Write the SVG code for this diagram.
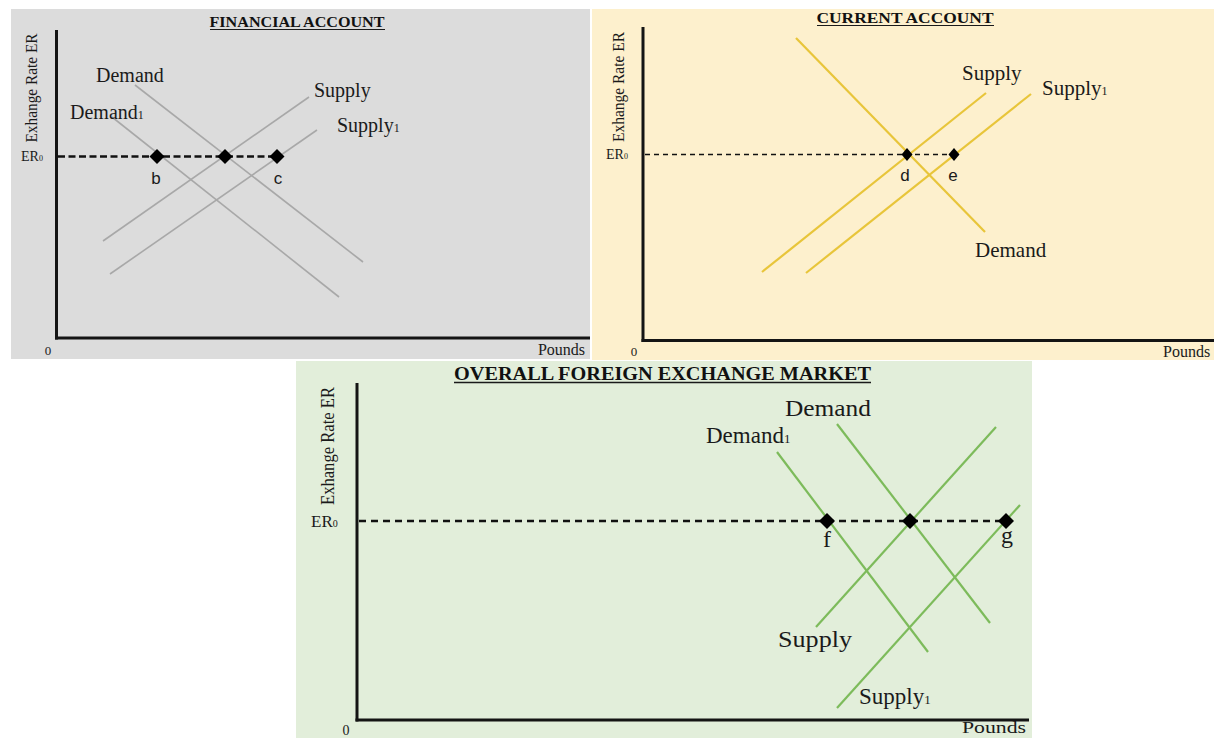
<svg xmlns="http://www.w3.org/2000/svg" width="1214" height="738" viewBox="0 0 1214 738">
<style>
.serif{font-family:"Liberation Serif","Times New Roman",serif;fill:#1a1a1a}
.sans{font-family:"Liberation Sans",Arial,sans-serif;fill:#1a1a1a}
.title{font-weight:bold;fill:#111}
.axis{stroke:#141414;stroke-width:3;fill:none}
.dash{stroke:#111;fill:none}
.gray{stroke:#a8a8a8;stroke-width:1.6;fill:none}
.yel{stroke:#e8c53a;stroke-width:2.2;fill:none}
.grn{stroke:#7dbb5b;stroke-width:2.2;fill:none}
.dot{fill:#000}
</style>
<rect width="1214" height="738" fill="#ffffff"/>

<g id="financial-account">
<rect x="11" y="9" width="579" height="350" fill="#dcdcdc"/>
<text class="serif title" x="297" y="27" font-size="15" text-anchor="middle" textLength="175" lengthAdjust="spacingAndGlyphs">FINANCIAL ACCOUNT</text>
<line x1="210" y1="29.5" x2="385" y2="29.5" stroke="#1a1a1a" stroke-width="1.2"/>
<text class="serif" font-size="16" text-anchor="middle" transform="translate(37,88) rotate(-90)" textLength="109" lengthAdjust="spacingAndGlyphs">Exhange Rate ER</text>
<text class="serif" x="21" y="161" font-size="14">ER<tspan font-size="8">0</tspan></text>
<text class="serif" x="48" y="355" font-size="13" text-anchor="middle">0</text>
<text class="serif" x="585" y="355" font-size="16" text-anchor="end">Pounds</text>
<g id="fa-curves">
<line class="gray" x1="135" y1="85" x2="363" y2="262"/>
<line class="gray" x1="112" y1="117" x2="339" y2="297"/>
<line class="gray" x1="103" y1="241" x2="309" y2="97"/>
<line class="gray" x1="110" y1="274" x2="317" y2="130"/>
<line class="dash" x1="58" y1="156.5" x2="277" y2="156.5" stroke-width="2.5" stroke-dasharray="7 3.5"/>
</g>
<polygon class="dot" points="157,149 164.5,156.5 157,164 149.5,156.5"/>
<polygon class="dot" points="225,149 232.5,156.5 225,164 217.5,156.5"/>
<polygon class="dot" points="277,149 284.5,156.5 277,164 269.5,156.5"/>
<text class="serif" x="96" y="82" font-size="20">Demand</text>
<text class="serif" x="70" y="119" font-size="20">Demand<tspan font-size="12">1</tspan></text>
<text class="serif" x="314" y="97" font-size="20">Supply</text>
<text class="serif" x="337" y="132" font-size="20">Supply<tspan font-size="12">1</tspan></text>
<text class="sans" x="156" y="184" font-size="17" text-anchor="middle">b</text>
<text class="sans" x="278" y="184" font-size="17" text-anchor="middle">c</text>
<line class="axis" x1="56.5" y1="30" x2="56.5" y2="339.5"/>
<line class="axis" x1="55" y1="338" x2="590" y2="338"/>
</g>

<g id="current-account">
<rect x="592" y="9" width="622" height="351" fill="#fdf0cd"/>
<text class="serif title" x="905" y="23" font-size="15" text-anchor="middle" textLength="177" lengthAdjust="spacingAndGlyphs">CURRENT ACCOUNT</text>
<line x1="817" y1="25.5" x2="994" y2="25.5" stroke="#1a1a1a" stroke-width="1.2"/>
<text class="serif" font-size="16" text-anchor="middle" transform="translate(624,87) rotate(-90)" textLength="110" lengthAdjust="spacingAndGlyphs">Exhange Rate ER</text>
<text class="serif" x="606" y="159" font-size="14">ER<tspan font-size="8">0</tspan></text>
<text class="serif" x="634" y="356" font-size="13" text-anchor="middle">0</text>
<text class="serif" x="1163" y="357" font-size="16">Pounds</text>
<g id="ca-curves">
<line class="yel" x1="796" y1="38" x2="985" y2="232"/>
<line class="yel" x1="762" y1="272" x2="986" y2="93"/>
<line class="yel" x1="806" y1="273" x2="1031" y2="94"/>
<line class="dash" x1="645" y1="154.5" x2="954" y2="154.5" stroke="#333" stroke-width="1.5" stroke-dasharray="5 4"/>
</g>
<polygon class="dot" points="907,148 912.5,154.5 907,161 901.5,154.5"/>
<polygon class="dot" points="954,148 959.5,154.5 954,161 948.5,154.5"/>
<text class="serif" x="962" y="80" font-size="21">Supply</text>
<text class="serif" x="1042" y="95" font-size="21">Supply<tspan font-size="12">1</tspan></text>
<text class="serif" x="975" y="257" font-size="21">Demand</text>
<text class="sans" x="905" y="181" font-size="17" text-anchor="middle">d</text>
<text class="sans" x="953" y="181" font-size="17" text-anchor="middle">e</text>
<line class="axis" x1="643" y1="27" x2="643" y2="342" stroke="#2a1f14"/>
<line class="axis" x1="641.5" y1="340.5" x2="1214" y2="340.5" stroke="#2a1f14"/>
</g>

<g id="overall-market">
<rect x="296" y="361" width="736" height="377" fill="#e2eeda"/>
<text class="serif title" x="662.5" y="380" font-size="19" text-anchor="middle" textLength="417" lengthAdjust="spacingAndGlyphs">OVERALL FOREIGN EXCHANGE MARKET</text>
<line x1="454" y1="382.5" x2="871" y2="382.5" stroke="#1a1a1a" stroke-width="1.4"/>
<text class="serif" font-size="18" text-anchor="middle" transform="translate(334,446) rotate(-90)" textLength="118" lengthAdjust="spacingAndGlyphs">Exhange Rate ER</text>
<text class="serif" x="311" y="527" font-size="17">ER<tspan font-size="10">0</tspan></text>
<text class="serif" x="346" y="735" font-size="14" text-anchor="middle">0</text>
<text class="serif" x="962" y="733" font-size="16" textLength="64" lengthAdjust="spacingAndGlyphs">Pounds</text>
<g id="om-curves">
<line class="grn" x1="837" y1="424" x2="990" y2="623"/>
<line class="grn" x1="777" y1="452" x2="928" y2="652"/>
<line class="grn" x1="816" y1="627" x2="996" y2="427"/>
<line class="grn" x1="837" y1="708" x2="1020" y2="505"/>
<line class="dash" x1="359" y1="521" x2="1006" y2="521" stroke-width="2.5" stroke-dasharray="7 5"/>
</g>
<polygon class="dot" points="827,513 835,521 827,529 819,521"/>
<polygon class="dot" points="910,513 918,521 910,529 902,521"/>
<polygon class="dot" points="1006,513 1014,521 1006,529 998,521"/>
<text class="serif" x="785" y="416" font-size="23" textLength="86" lengthAdjust="spacingAndGlyphs">Demand</text>
<text class="serif" x="706" y="443" font-size="23">Demand<tspan font-size="13">1</tspan></text>
<text class="serif" x="778" y="647" font-size="23" textLength="74" lengthAdjust="spacingAndGlyphs">Supply</text>
<text class="serif" x="859" y="704" font-size="23">Supply<tspan font-size="13">1</tspan></text>
<text class="serif" x="827" y="547" font-size="24" text-anchor="middle">f</text>
<text class="serif" x="1007" y="543" font-size="24" text-anchor="middle">g</text>
<line class="axis" x1="357" y1="383" x2="357" y2="721.5" stroke="#0f1a0a"/>
<line class="axis" x1="355.5" y1="720" x2="1029" y2="720" stroke="#0f1a0a"/>
</g>
</svg>
